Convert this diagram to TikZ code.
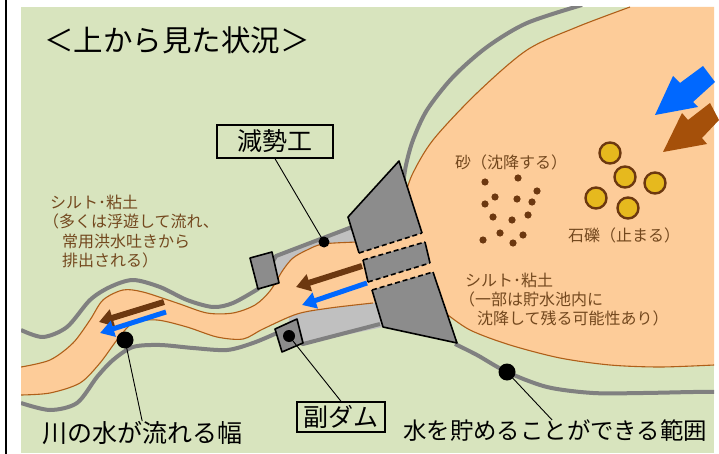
\documentclass[tikz,border=0pt]{standalone}
\usepackage{fontspec}
\setmainfont{Noto Sans CJK JP}
\usetikzlibrary{arrows.meta}

\definecolor{meadow}{RGB}{216,228,190}
\definecolor{silt}{RGB}{253,204,153}
\definecolor{rim}{RGB}{175,95,25}
\definecolor{bank}{RGB}{128,128,128}
\definecolor{apron}{RGB}{192,192,192}
\definecolor{concrete}{RGB}{140,140,140}
\definecolor{mud}{RGB}{108,56,16}
\definecolor{rust}{RGB}{165,80,10}
\definecolor{flow}{RGB}{0,104,255}
\definecolor{pebble}{RGB}{230,185,30}
\definecolor{note}{RGB}{115,72,30}

\tikzset{
  notetext/.style={font=\fontsize{16}{19}\selectfont, text=note, anchor=west, inner sep=0pt},
  callout/.style={font=\fontsize{25}{28}\selectfont, anchor=west, inner sep=0pt},
  tag/.style={draw=black, line width=1.4pt, font=\fontsize{25}{28}\selectfont, inner sep=0pt},
  pin/.style={circle, fill=black, inner sep=0pt},
  leader/.style={line width=0.9pt},
  bankline/.style={draw=bank, line width=4pt, line join=round},
  rimline/.style={draw=rim, line width=1.1pt},
  slabedge/.style={draw=black, line width=1.6pt, line join=round},
  joint/.style={draw=black, line width=1.6pt, dash pattern=on 5pt off 3pt},
  grain/.style={fill=mud},
  pebblestyle/.style={fill=pebble, draw=mud, line width=2.4pt},
  mudflow/.style={draw=mud, line width=6pt, -{Triangle[length=14pt,width=17pt]}},
  waterflow/.style={draw=flow, line width=5pt, -{Triangle[length=14pt,width=16pt]}},
}

\begin{document}
\begin{tikzpicture}[x=1pt,y=-1pt]
\useasboundingbox (0,0) rectangle (719,454);
\fill[white] (0,0) rectangle (719,454);

% frame line on the left
\draw[line width=2.5pt] (6,0) -- (6,454);

% ground
\fill[meadow] (21,7) rectangle (714,453);

\begin{scope}
\clip (21,7) rectangle (714,453);

% reservoir water surface
\fill[silt] (714,7) -- plot[smooth] coordinates {(630,7) (577,27) (527,50) (477,93) (433,140) (412,175) (404,200)}
  -- (388,245)
  -- plot[smooth] coordinates {(444,312) (470,330) (510,345) (560,358) (610,365) (660,367) (714,365)} -- cycle;

% concrete aprons beside the channel
\fill[apron] (276,256) -- (352,227) -- (365,222) -- (365,250) -- (290,268) -- (272,298) -- cycle;
\fill[apron] (290,312) -- (375,292) -- (383,327) -- (303,344) -- (286,340) -- cycle;

% river channel
\fill[silt] plot[smooth] coordinates {(21,367) (50,360) (73,343) (90,320) (103,300) (123,290) (143,292) (177,303) (207,313) (233,313) (255,305) (270,291) (283,270) (293,258) (307,250) (323,244) (357,242) (365,242)}
  -- (440,228) -- (450,300)
  -- plot[smooth] coordinates {(373,303) (330,308) (297,314) (263,329) (243,339) (217,337) (187,327) (157,320) (133,323) (117,340) (100,363) (80,383) (50,393) (21,395)} -- cycle;
\draw[rimline] plot[smooth] coordinates {(21,367) (50,360) (73,343) (90,320) (103,300) (123,290) (143,292) (177,303) (207,313) (233,313) (255,305) (270,291) (283,270) (293,258) (307,250) (323,244) (357,242) (365,242)};
\draw[rimline] plot[smooth] coordinates {(373,303) (330,308) (297,314) (263,329) (243,339) (217,337) (187,327) (157,320) (133,323) (117,340) (100,363) (80,383) (50,393) (21,395)};

% reservoir shore line
\draw[rimline] plot[smooth] coordinates {(630,7) (577,27) (527,50) (477,93) (433,140) (412,175) (404,200)};
\draw[rimline] plot[smooth] coordinates {(444,312) (470,330) (510,345) (560,358) (610,365) (660,367) (714,365)};

% banks
\draw[bankline] plot[smooth] coordinates {(21,330) (43,337) (67,327) (90,300) (110,287) (133,280) (160,287) (187,300) (213,307) (233,303) (258,289)} -- (276,256) -- (352,227) -- (365,222);
\draw[bankline] plot[smooth] coordinates {(582,5) (527,23) (487,47) (453,77) (427,110) (413,140) (406,165) (403,185)};
\draw[bankline] plot[smooth] coordinates {(21,403) (50,410) (77,403) (97,377) (113,360) (133,347) (160,345) (193,348) (227,350) (253,343) (277,333)} -- (303,344) -- (380,324);
\draw[bankline] plot[smooth] coordinates {(455,344) (477,355) (507,372) (547,387) (593,393) (643,393) (693,392) (716,392)};
\end{scope}

% end sills of the stilling basin
\filldraw[fill=concrete, slabedge] (250,258) -- (272,252) -- (279,283) -- (258,289) -- cycle;
\filldraw[fill=concrete, slabedge] (275,329) -- (297,319) -- (303,343) -- (282,352) -- cycle;

% flow in the river
\draw[mudflow] (164,302) -- (99,322);
\draw[waterflow] (166,312) -- (100,333);
\draw[mudflow] (362,266) -- (296,287);
\draw[waterflow] (367,283) -- (302,305);

% dam body, split by the outlets
\fill[concrete] (359,253) -- (348,217) -- (399,161) -- (422,233) -- cycle;
\draw[slabedge] (422,233) -- (399,161) -- (348,217) -- (359,253);
\draw[joint] (359,253) -- (422,233);

\fill[concrete] (363,260) -- (425,242) -- (430,263) -- (368,282) -- cycle;
\draw[slabedge] (363,260) -- (368,282);
\draw[slabedge] (425,242) -- (430,263);
\draw[joint] (363,260) -- (425,242);
\draw[joint] (368,282) -- (430,263);

\fill[concrete] (372,290) -- (433,272) -- (457,343) -- (383,327) -- cycle;
\draw[slabedge] (372,290) -- (383,327) -- (457,343) -- (433,272);
\draw[joint] (372,290) -- (433,272);

% inflow arrows
\fill[flow] (655,115) -- (673,76) -- (680,83) -- (703,66) -- (715,82) -- (693,102) -- (698,107) -- cycle;
\fill[rust] (663,152) -- (682,113) -- (688,120) -- (710,103) -- (719,120) -- (702,138) -- (707,144) -- cycle;

% sand
\foreach \p in {(485,182),(518,178),(537,191),(495,197),(517,199),(532,202),(485,204),(512,220),(493,217),(528,215),(500,233),(523,235),(483,240),(513,243)}
  \fill[grain] \p circle[radius=3.6pt];

% gravel
\foreach \p in {(610,153),(625,177),(655,183),(596,198),(628,208)}
  \filldraw[pebblestyle] \p circle[radius=10.5pt];

% labels
\node[anchor=west, inner sep=0pt, font=\fontsize{29.5}{33}\selectfont] (title) at (44,40) {＜上から見た状況＞};

\node[notetext] (sand) at (455,162) {砂（沈降する）};
\node[notetext] (gravel) at (568,235) {石礫（止まる）};

\node[notetext] (siltA1) at (50,202) {シルト･粘土};
\node[notetext] (siltA2) at (43,221.5) {（多くは浮遊して流れ、};
\node[notetext] (siltA3) at (62,241) {常用洪水吐きから};
\node[notetext] (siltA4) at (62,260.5) {排出される）};

\node[notetext] (siltB1) at (465,280) {シルト･粘土};
\node[notetext] (siltB2) at (459,299.5) {（一部は貯水池内に};
\node[notetext] (siltB3) at (477,318.5) {沈降して残る可能性あり）};

\node[tag, minimum width=116pt, minimum height=33pt] (basin) at (275,141.5) {減勢工};
\node[tag, minimum width=88pt, minimum height=30pt] (subdam) at (341,417) {副ダム};

\node[callout] (width) at (42,433) {川の水が流れる幅};
\node[callout, font=\fontsize{23.4}{28}\selectfont] (storage) at (403,431) {水を貯めることができる範囲};

% pins and leaders
\node[pin, minimum size=11pt] (basinpin) at (324,242) {};
\node[pin, minimum size=12pt] (subdampin) at (289,336) {};
\node[pin, minimum size=17pt] (widthpin) at (125,340) {};
\node[pin, minimum size=17pt] (storagepin) at (507,372) {};

\draw[leader] (basin.south) -- (basinpin.center);
\draw[leader] (subdampin.center) -- (subdam.north);
\draw[leader] (widthpin.center) -- (width.north);
\draw[leader] (storagepin.center) -- ([xshift=-3pt]storage.north);
\end{tikzpicture}
\end{document}
